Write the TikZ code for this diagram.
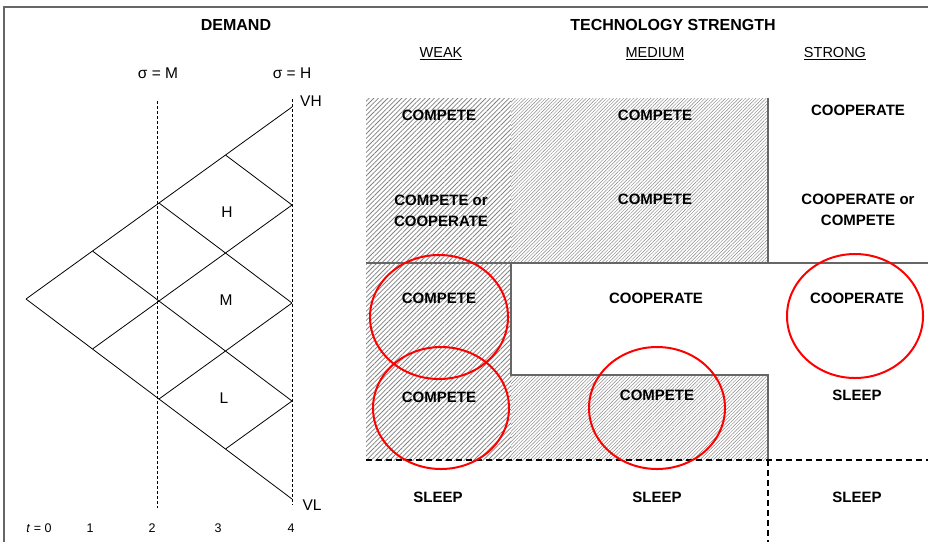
\documentclass[tikz,border=0pt]{standalone}
\usepackage{fontspec}
\setmainfont{Liberation Sans}
\usetikzlibrary{patterns.meta}

\begin{document}
\begin{tikzpicture}[x=1pt,y=-1pt,
  lbl/.style={font=\fontsize{15}{21}\selectfont\bfseries, align=center, inner sep=0pt},
  hdr/.style={font=\fontsize{16}{18}\selectfont\bfseries, inner sep=0pt},
  colhdr/.style={font=\fontsize{14.5}{17}\selectfont, inner sep=0pt},
  plain/.style={font=\fontsize{15.5}{18}\selectfont, inner sep=0pt},
  axis/.style={font=\fontsize{12.5}{14}\selectfont, inner sep=0pt},
  edge/.style={line width=0.8pt},
  guide/.style={line width=0.8pt, dash pattern=on 3pt off 2pt},
  border/.style={draw=black!60, line width=1.3pt},
  split/.style={black, line width=1.1pt, dash pattern=on 6pt off 4pt},
  ring/.style={red, line width=2pt},
  weakhatch/.style={pattern={Lines[angle=45,distance=3.3pt,line width=0.75pt]}, pattern color=black!50},
  medhatch/.style={pattern={Lines[angle=45,distance=2.4pt,line width=0.45pt]}, pattern color=black!48},
]
\useasboundingbox (0,0) rectangle (928,542);

% outer frame (top and left edges)
\draw[border] (4,542) -- (4,7) -- (928,7);

% headings
\node[hdr] (demand) at (236,25) {DEMAND};
\node[hdr] (tech) at (673,25) {TECHNOLOGY STRENGTH};
\node[colhdr] (weak) at (441,54) {\underline{WEAK}};
\node[colhdr] (medium) at (655,54) {\underline{MEDIUM}};
\node[colhdr] (strong) at (835,54) {\underline{STRONG}};

% ---------- demand lattice ----------
\node[plain] (sigM) at (158,73) {σ = M};
\node[plain] (sigH) at (292,73) {σ = H};

\coordinate (gMtop) at (157,101);
\coordinate (gMbot) at (157,508);
\coordinate (gHtop) at (292,99);
\coordinate (gHbot) at (292,505);
\draw[guide] (gMtop) -- (gMbot);
\draw[guide] (gHtop) -- (gHbot);

% node (t,j): t periods, j up-moves
\foreach \t in {0,...,4}{
  \foreach \j in {0,...,\t}{
    \pgfmathsetmacro{\px}{26+66.5*\t}
    \pgfmathsetmacro{\py}{299-48*\j+50*(\t-\j)}
    \coordinate (n-\t-\j) at (\px,\py);
  }
}
\foreach \t in {0,...,3}{
  \pgfmathtruncatemacro{\tn}{\t+1}
  \foreach \j in {0,...,\t}{
    \pgfmathtruncatemacro{\jn}{\j+1}
    \draw[edge] (n-\t-\j) -- (n-\tn-\jn);
    \draw[edge] (n-\t-\j) -- (n-\tn-\j);
  }
}

\node[plain] (lvH) at (227,212) {H};
\node[plain] (lvM) at (226,300) {M};
\node[plain] (lvL) at (224,398) {L};
\node[plain] (lvVH) at (311,101) {VH};
\node[plain] (lvVL) at (312,505) {VL};

\node[axis] (t0) at (39,528) {\textit{t} = 0};
\node[axis] (t1) at (90,528) {1};
\node[axis] (t2) at (152,528) {2};
\node[axis] (t3) at (218,528) {3};
\node[axis] (t4) at (291,528) {4};

% ---------- strategy grid ----------
\fill[weakhatch] (366,98) rectangle (511,460);
\fill[medhatch] (511,98) rectangle (768,263);
\fill[medhatch] (511,375) rectangle (768,460);

\draw[border] (768,98) -- (768,263);
\draw[border] (366,263) -- (928,263);
\draw[border] (511,263) -- (511,375) -- (768,375) -- (768,460);
\draw[split] (366,460) -- (928,460);
\draw[split] (768,460) -- (768,542);

\node[lbl] (c11) at (439,115) {COMPETE};
\node[lbl] (c12) at (655,115) {COMPETE};
\node[lbl] (c13) at (858,110) {COOPERATE};

\node[lbl] (c21) at (441,211) {COMPETE or\\COOPERATE};
\node[lbl] (c22) at (655,199) {COMPETE};
\node[lbl] (c23) at (858,210) {COOPERATE or\\COMPETE};

\node[lbl] (c31) at (439,298) {COMPETE};
\node[lbl] (c32) at (656,298) {COOPERATE};
\node[lbl] (c33) at (857,298) {COOPERATE};

\node[lbl] (c41) at (439,397) {COMPETE};
\node[lbl] (c42) at (657,395) {COMPETE};
\node[lbl] (c43) at (857,395) {SLEEP};

\node[lbl] (c51) at (438,497) {SLEEP};
\node[lbl] (c52) at (657,497) {SLEEP};
\node[lbl] (c53) at (857,497) {SLEEP};

% highlighted cells
\draw[ring] (439,317) ellipse [x radius=69, y radius=62];
\draw[ring] (441,408) ellipse [x radius=68, y radius=61];
\draw[ring] (657,408) ellipse [x radius=68, y radius=61];
\draw[ring] (855,316) ellipse [x radius=68, y radius=62];

\end{tikzpicture}
\end{document}
